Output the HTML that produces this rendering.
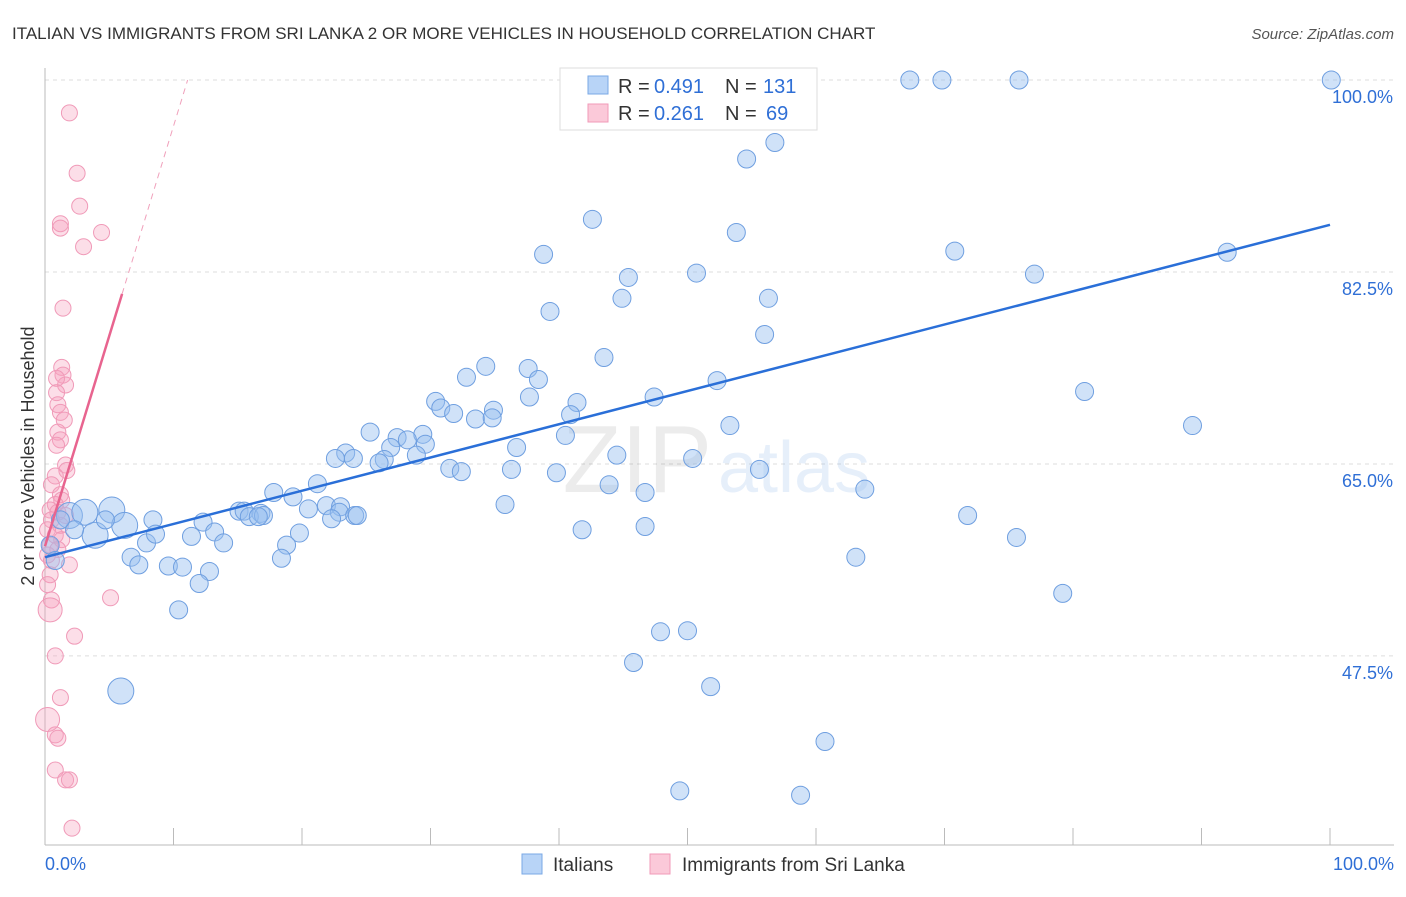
<!DOCTYPE html>
<html><head><meta charset="utf-8"><style>
body{margin:0;background:#fff;font-family:"Liberation Sans",sans-serif}
svg text{font-family:"Liberation Sans",sans-serif}
</style></head><body>
<svg id="chart" width="1406" height="892">
<text x="12" y="39" font-size="17" fill="#333">ITALIAN VS IMMIGRANTS FROM SRI LANKA 2 OR MORE VEHICLES IN HOUSEHOLD CORRELATION CHART</text>
<text x="1394" y="39" font-size="15" fill="#555" text-anchor="end" font-style="italic">Source: ZipAtlas.com</text>
<text transform="translate(34,456) rotate(-90)" font-size="18" fill="#333" text-anchor="middle">2 or more Vehicles in Household</text>
<g id="grid"></g>
<text x="712" y="492" font-size="96" fill="#000" opacity="0.07" text-anchor="end" font-family="Liberation Serif">ZIP</text>
<text x="718" y="492" font-size="72" fill="#7aa8e6" opacity="0.18">atlas</text>
<g id="pts"></g>
<g id="lines"></g>
<g>
<rect x="560" y="68" width="257" height="62" fill="#fff" stroke="#ddd"/>
<rect x="588" y="76" width="20" height="18" fill="#b8d4f7" stroke="#7aa8e6"/>
<text x="618" y="93" font-size="20" fill="#333">R =</text>
<text x="654" y="93" font-size="20" fill="#2f6fd6">0.491</text>
<text x="725" y="93" font-size="20" fill="#333">N =</text>
<text x="763" y="93" font-size="20" fill="#2f6fd6">131</text>
<rect x="588" y="104" width="20" height="18" fill="#fbc9d9" stroke="#f09ab8"/>
<text x="618" y="120" font-size="20" fill="#333">R =</text>
<text x="654" y="120" font-size="20" fill="#2f6fd6">0.261</text>
<text x="725" y="120" font-size="20" fill="#333">N =</text>
<text x="766" y="120" font-size="20" fill="#2f6fd6">69</text>
</g>
<g>
<rect x="522" y="854" width="20" height="20" fill="#b8d4f7" stroke="#7aa8e6"/>
<text x="553" y="871" font-size="19" fill="#333">Italians</text>
<rect x="650" y="854" width="20" height="20" fill="#fbc9d9" stroke="#f09ab8"/>
<text x="682" y="871" font-size="19" fill="#333">Immigrants from Sri Lanka</text>
</g>
</svg>
<script>
const yTicks=[100,82.5,65,47.5];
const xTickLabels=["0.0%","100.0%"];
const blueData=[[48.6,100],[50.7,100],[67.3,100],[69.8,100],[75.8,100],[100.1,100],[56.8,94.3],[54.6,92.8],[42.6,87.3],[53.8,86.1],[38.8,84.1],[70.8,84.4],[92,84.3],[50.7,82.4],[45.4,82],[77,82.3],[44.9,80.1],[56.3,80.1],[39.3,78.9],[56,76.8],[43.5,74.7],[34.3,73.9],[37.6,73.7],[32.8,72.9],[38.4,72.7],[52.3,72.6],[80.9,71.6],[47.4,71.1],[30.4,70.7],[30.8,70.1],[37.7,71.1],[41.4,70.6],[34.9,69.9],[40.9,69.5],[31.8,69.6],[33.5,69.1],[34.8,69.2],[89.3,68.5],[53.3,68.5],[40.5,67.6],[25.3,67.9],[27.4,67.4],[29.4,67.7],[28.2,67.2],[29.6,66.8],[23.4,66],[26.9,66.5],[36.7,66.5],[28.9,65.8],[24,65.5],[22.6,65.5],[26.4,65.4],[26,65.1],[44.5,65.8],[50.4,65.5],[31.5,64.6],[32.4,64.3],[36.3,64.5],[39.8,64.2],[55.6,64.5],[63.8,62.7],[43.9,63.1],[46.7,62.4],[21.2,63.2],[17.8,62.4],[19.3,62],[35.8,61.3],[20.5,60.9],[21.9,61.2],[23,61.1],[22.9,60.6],[24.1,60.3],[22.3,60],[15.1,60.7],[15.5,60.7],[16.8,60.5],[15.9,60.2],[17,60.3],[16.6,60.2],[24.3,60.3],[12.3,59.7],[71.8,60.3],[41.8,59],[46.7,59.3],[19.8,58.7],[13.2,58.8],[75.6,58.3],[11.4,58.4],[13.9,57.8],[18.8,57.6],[7.9,57.8],[6.7,56.5],[18.4,56.4],[63.1,56.5],[7.3,55.8],[9.6,55.7],[10.7,55.6],[12.8,55.2],[12,54.1],[10.4,51.7],[79.2,53.2],[47.9,49.7],[50,49.8],[45.8,46.9],[51.8,44.7],[5.9,44.3],[60.7,39.7],[49.4,35.2],[58.8,34.8],[8.4,59.9],[8.6,58.6],[1.9,60.3],[3.1,60.6],[3.9,58.5],[5.2,60.8],[6.2,59.4],[2.3,59],[1.2,59.9],[4.7,59.9],[0.4,57.6],[0.8,56.2]];
const blueBig=[105,111,112,113,114,115];
const pinkData=[[1.9,97],[2.5,91.5],[2.7,88.5],[1.2,86.9],[1.2,86.5],[4.4,86.1],[3,84.8],[1.4,79.2],[1.3,73.8],[1.4,73.1],[1.6,72.2],[0.9,72.8],[0.9,71.5],[1,70.4],[1.2,69.7],[1.5,69],[1,67.9],[1.2,67.2],[0.9,66.7],[1.6,64.9],[1.7,64.4],[0.8,63.9],[0.5,63.1],[1.2,62.2],[1.3,61.7],[0.8,61.3],[0.4,60.8],[1,60.6],[1.6,60.3],[0.5,59.9],[1.2,59.4],[0.2,59],[0.8,58.5],[1.3,58.1],[0.4,57.6],[1,57.2],[0.2,56.7],[0.5,56.2],[1.9,55.8],[0.4,54.9],[0.2,54],[0.5,52.6],[0.4,51.7],[5.1,52.8],[2.3,49.3],[0.8,47.5],[1.2,43.7],[0.2,41.7],[0.8,40.3],[1,40],[0.8,37.1],[1.6,36.2],[1.9,36.2],[2.1,31.8]];
const pinkBig=[42,47];
const blueLine=[[0,56.5],[100,86.8]];
const pinkLine=[[0,57.5],[6,80.5]];
const pinkDash=[[6,80.5],[11.1,100]];
const X=v=>45+v*12.85, Y=v=>80+(100-v)*10.97;
const NS="http://www.w3.org/2000/svg";
function mk(t,a,p){const e=document.createElementNS(NS,t);for(const k in a)e.setAttribute(k,a[k]);p.appendChild(e);return e;}
const grid=document.getElementById('grid');
yTicks.forEach(t=>{
const l=mk('line',{x1:45,x2:1394,y1:Y(t),y2:Y(t),stroke:'#ddd','stroke-dasharray':'4,4'},grid);


const tx=mk('text',{x:1393,y:Y(t)+23,'font-size':18,fill:'#2f6fd6','text-anchor':'end'},grid);tx.textContent=t.toFixed(1)+'%';


});
mk('line',{x1:45,x2:45,y1:68,y2:845,stroke:'#bbb'},grid);
mk('line',{x1:45,x2:1394,y1:845,y2:845,stroke:'#bbb'},grid);
for(let i=0;i<=10;i++){const t=mk('line',{x1:X(i*10),x2:X(i*10),y1:828,y2:845,stroke:'#bbb'},grid);

}
[[0,'start'],[100,'end']].forEach((p,i)=>{const t=mk('text',{x:p[0]?1394:45,y:870,'font-size':18,fill:'#2f6fd6','text-anchor':p[1]},grid);t.textContent=xTickLabels[i];

});
const pts=document.getElementById('pts');
pinkData.forEach((d,i)=>{const c=mk('circle',{cx:X(d[0]),cy:Y(d[1]),r:pinkBig.includes(i)?12:8,fill:'rgba(245,160,190,0.35)',stroke:'#f09ab8','stroke-width':1},pts);

});
blueData.forEach((d,i)=>{const c=mk('circle',{cx:X(d[0]),cy:Y(d[1]),r:blueBig.includes(i)?13:9,fill:'rgba(150,190,240,0.45)',stroke:'#6f9fe0','stroke-width':1},pts);

});
const ln=document.getElementById('lines');
const b=mk('line',{x1:X(blueLine[0][0]),y1:Y(blueLine[0][1]),x2:X(blueLine[1][0]),y2:Y(blueLine[1][1]),stroke:'#2a6fd8','stroke-width':2.5},ln);


const p=mk('line',{x1:X(pinkLine[0][0]),y1:Y(pinkLine[0][1]),x2:X(pinkLine[1][0]),y2:Y(pinkLine[1][1]),stroke:'#e8648f','stroke-width':2.5},ln);


const d=mk('line',{x1:X(pinkDash[0][0]),y1:Y(pinkDash[0][1]),x2:X(pinkDash[1][0]),y2:Y(pinkDash[1][1]),stroke:'#f0a0bb','stroke-width':1,'stroke-dasharray':'6,5'},ln);


</script>
</body></html>
